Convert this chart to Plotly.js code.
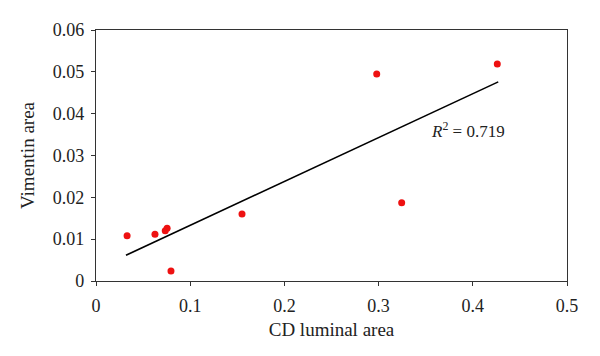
<!DOCTYPE html>
<html>
<head>
<meta charset="utf-8">
<script src="https://cdn.plot.ly/plotly-3.0.1.min.js"></script>
<style>html,body{margin:0;padding:0;background:#fff;}#chart{width:600px;height:356px;}</style>
</head>
<body>
<div id="chart"></div>
<script>
// Data
var cdLuminal = [0.033, 0.0626, 0.0735, 0.0755, 0.0796, 0.155, 0.298, 0.3245, 0.426];
var vimentin  = [0.0108, 0.0112, 0.0120, 0.0126, 0.0024, 0.0160, 0.0495, 0.0187, 0.0519];
var trendX = [0.0318, 0.427];
var trendY = [0.00614, 0.0476];
var rSquaredLabel = "<i>R</i><sup>2</sup> = 0.719";
var rLabelPos = [0.395, 0.0361];
var xTicks = [0, 0.1, 0.2, 0.3, 0.4, 0.5];
var yTicks = [0, 0.01, 0.02, 0.03, 0.04, 0.05, 0.06];
var xTickText = ["0", "0.1", "0.2", "0.3", "0.4", "0.5"];
var yTickText = ["0", "0.01", "0.02", "0.03", "0.04", "0.05", "0.06"];

var font = "Liberation Serif, Times New Roman, serif";

var traces = [
  {x: trendX, y: trendY, mode: "lines", type: "scatter",
   line: {color: "#000", width: 1.6}, hoverinfo: "skip"},
  {x: cdLuminal, y: vimentin, mode: "markers", type: "scatter",
   marker: {color: "#ee1111", size: 7}}
];

var layout = {
  width: 600, height: 356,
  margin: {l: 96, r: 33, t: 30, b: 75},
  paper_bgcolor: "#fff", plot_bgcolor: "#fff",
  showlegend: false,
  font: {family: font, size: 18, color: "#222"},
  xaxis: {
    range: [0, 0.5], tickvals: xTicks, ticktext: xTickText,
    showgrid: false, zeroline: false,
    showline: true, linecolor: "#333", linewidth: 1.2, mirror: true,
    ticks: "outside", ticklen: 4, tickcolor: "#333", ticklabelstandoff: 4,
    tickfont: {family: font, size: 18, color: "#222"},
    title: {text: "CD luminal area", font: {family: font, size: 19, color: "#222"}, standoff: 8}
  },
  yaxis: {
    range: [0, 0.06], tickvals: yTicks, ticktext: yTickText,
    showgrid: false, zeroline: false,
    showline: true, linecolor: "#333", linewidth: 1.2, mirror: true,
    ticks: "outside", ticklen: 4, tickcolor: "#333", ticklabelstandoff: 3,
    tickfont: {family: font, size: 18, color: "#222"},
    title: {text: "Vimentin area", font: {family: font, size: 19, color: "#222"}, standoff: 13}
  },
  annotations: [{
    x: rLabelPos[0], y: rLabelPos[1], xref: "x", yref: "y",
    text: rSquaredLabel, showarrow: false,
    font: {family: font, size: 17, color: "#222"}
  }]
};

Plotly.newPlot("chart", traces, layout, {displayModeBar: false, staticPlot: true});
</script>
</body>
</html>
